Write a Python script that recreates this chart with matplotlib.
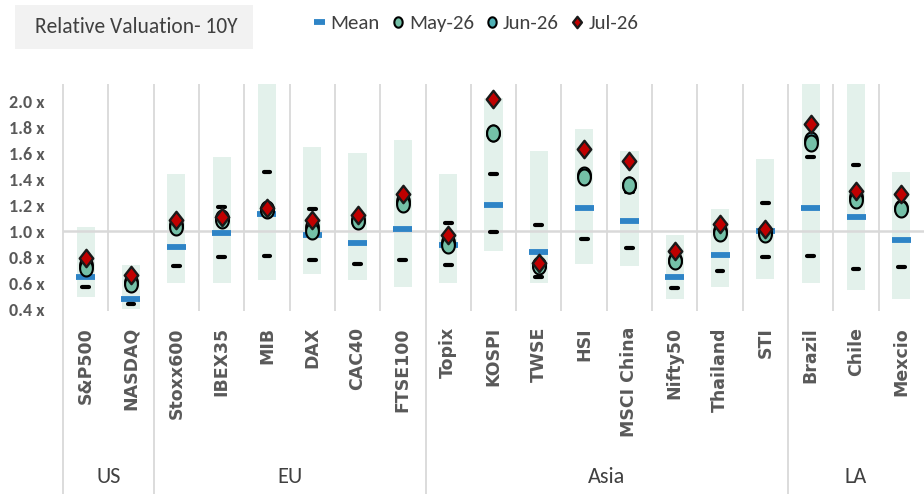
import matplotlib
matplotlib.use("Agg")
import matplotlib.pyplot as plt
import numpy as np
from matplotlib.path import Path
from matplotlib.patches import Rectangle
from matplotlib.ticker import FuncFormatter

# ---------------- data ----------------
categories = ['S&P500', 'NASDAQ', 'Stoxx600', 'IBEX35', 'MIB', 'DAX', 'CAC40', 'FTSE100',
              'Topix', 'KOSPI', 'TWSE', 'HSI', 'MSCI China', 'Nifty50', 'Thailand', 'STI',
              'Brazil', 'Chile', 'Mexcio']
groups = ['US', 'EU', 'Asia', 'LA']
group_sizes = [2, 6, 8, 3]

band_low = [0.49, 0.39, 0.60, 0.60, 0.62, 0.67, 0.62, 0.57, 0.60, 0.85, 0.60, 0.75, 0.73, 0.48, 0.57, 0.63, 0.60, 0.55, 0.48]
band_high = [1.03, 0.74, 1.44, 1.57, 2.25, 1.65, 1.60, 1.70, 1.44, 2.03, 1.62, 1.79, 1.62, 0.97, 1.17, 1.56, 2.25, 2.25, 1.46]
mean = [0.65, 0.48, 0.88, 0.985, 1.13, 0.97, 0.91, 1.02, 0.895, 1.20, 0.84, 1.18, 1.075, 0.645, 0.82, 1.00, 1.18, 1.11, 0.93]
sd_low = [0.57, 0.44, 0.73, 0.80, 0.81, 0.78, 0.745, 0.78, 0.74, 0.99, 0.65, 0.94, 0.87, 0.565, 0.69, 0.80, 0.81, 0.71, 0.725]
sd_high = [0.77, 0.55, 1.07, 1.19, 1.46, 1.17, 1.08, 1.27, 1.06, 1.44, 1.05, 1.44, 1.30, 0.76, 0.98, 1.22, 1.57, 1.51, 1.16]
may26 = [0.72, 0.595, 1.035, 1.09, 1.165, 1.005, 1.075, 1.21, 0.89, 1.76, 0.73, 1.42, 1.355, 0.77, 0.985, 0.98, 1.68, 1.24, 1.17]
jun26 = [0.74, 0.61, 1.05, 1.10, 1.17, 1.03, 1.09, 1.23, 0.92, 1.76, 0.74, 1.43, 1.36, 0.78, 1.00, 0.99, 1.70, 1.26, 1.18]
jul26 = [0.79, 0.665, 1.09, 1.11, 1.18, 1.09, 1.125, 1.29, 0.97, 2.02, 0.755, 1.63, 1.54, 0.845, 1.055, 1.02, 1.83, 1.31, 1.29]
yticks = [0.4, 0.6, 0.8, 1.0, 1.2, 1.4, 1.6, 1.8, 2.0]

# ---------------- style ----------------
NARROW = ['Carlito', 'Archivo Narrow', 'DejaVu Sans']
GRID = '#d9d9d9'
TXT = '#595959'

W, H = 924, 495
fig = plt.figure(figsize=(W / 100, H / 100), dpi=100)
ax_left, ax_right, ax_top, ax_bot = 63, 924, 84, 309
ax = fig.add_axes([ax_left / W, 1 - ax_bot / H, (ax_right - ax_left) / W, (ax_bot - ax_top) / H])

x = np.arange(len(categories))
ax.set_xlim(-0.5, len(categories) - 0.5)
ax.set_ylim(0.4, 2.135)

# bands
ax.bar(x, np.array(band_high) - np.array(band_low), bottom=band_low, width=0.4,
       color='#e3f1eb', zorder=1)
# 1.0 reference line
ax.axhline(1.0, color=GRID, lw=1.8, zorder=2)

# separators
group_edges = np.concatenate([[0], np.cumsum(group_sizes)]) - 0.5
inner = [e for e in x[:-1] + 0.5 if not np.any(np.isclose(e, group_edges))]
xt = ax.get_xaxis_transform()
ax.vlines(inner, -0.01, 1, transform=xt, color=GRID, lw=1.3, clip_on=False, zorder=2)
ax.vlines(group_edges[:-1], -0.82, 1, transform=xt, color=GRID, lw=1.3, clip_on=False, zorder=2)

# mean & std dashes
ax.hlines(mean, x - 0.21, x + 0.21, color='#2e84c6', lw=4.2, zorder=3, label='Mean')
ax.hlines(sd_low, x - 0.075, x + 0.075, color='black', lw=3.0, capstyle='round', zorder=3)
ax.hlines(sd_high, x - 0.075, x + 0.075, color='black', lw=3.0, capstyle='round', zorder=3)

# markers
t = np.linspace(0, 2 * np.pi, 60)
ellipse = Path(np.column_stack([0.8 * np.cos(t), np.sin(t)]), closed=True)
diamond = Path([(0, 1), (0.78, 0), (0, -1), (-0.78, 0), (0, 1)], closed=True)

ax.plot(x, jun26, ls='none', marker=ellipse, ms=11.5, mfc='#4fb1b5', mec='black', mew=1.5,
        zorder=4, label='Jun-26')
ax.plot(x, may26, ls='none', marker=ellipse, ms=11.5, mfc='#74c0a7', mec='black', mew=1.5,
        zorder=4.5, label='May-26')
ax.plot(x, jul26, ls='none', marker=diamond, ms=12.5, mfc='#c00000', mec='#1a1a1a', mew=1.7,
        zorder=5, label='Jul-26')

# axes styling
for s in ax.spines.values():
    s.set_visible(False)
ax.set_yticks(yticks)
ax.yaxis.set_major_formatter(FuncFormatter(lambda v, p: f'{v:.1f} x'))
ax.tick_params(axis='y', length=0, pad=13, labelcolor=TXT, labelsize=13)
for lbl in ax.get_yticklabels():
    lbl.set_family(NARROW)
    lbl.set_fontweight('bold')

ax.set_xticks(x)
ax.set_xticklabels(categories, rotation=90, va='top', ha='center', fontsize=12.5,
                   fontweight='bold', color=TXT, family='DejaVu Sans')
ax.tick_params(axis='x', length=0, pad=13)

# group labels
for gname, start, size in zip(groups, group_edges[:-1], group_sizes):
    ax.text(start + size / 2, -0.745, gname, transform=xt, ha='center', va='center',
            fontsize=16, color='#404040', family=NARROW)

# title box
fig.patches.append(Rectangle((15 / W, 1 - 49 / H), 238 / W, 44 / H, transform=fig.transFigure,
                             facecolor='#f2f2f2', edgecolor='none', zorder=0))
fig.text(136 / W, 1 - 27 / H, 'Relative Valuation- 10Y', ha='center', va='center',
         fontsize=15.5, color='#404040', family=NARROW)

# legend
handles, labels = ax.get_legend_handles_labels()
order = ['Mean', 'May-26', 'Jun-26', 'Jul-26']
hmap = dict(zip(labels, handles))
leg = fig.legend([hmap[o] for o in order], order, loc='center', ncol=4,
                 bbox_to_anchor=(476 / W, 1 - 23 / H), frameon=False,
                 handlelength=0.55, handletextpad=0.25, columnspacing=0.6,
                 markerscale=0.65, prop={'family': NARROW, 'size': 15})
for txt in leg.get_texts():
    txt.set_color('#404040')

fig.savefig('out.png', dpi=100, facecolor='white')
